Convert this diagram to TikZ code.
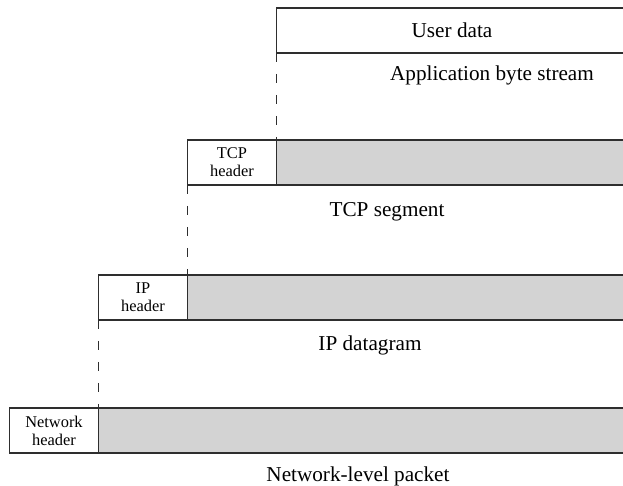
\documentclass[tikz,border=0pt]{standalone}
\usepackage{fontspec}
\setmainfont{Liberation Serif}
\usepackage{tikz}
\usetikzlibrary{positioning,calc}
\definecolor{ink}     {HTML}{2E2E2E}
\definecolor{paygray} {HTML}{D3D3D3}
\tikzset{
  % --- nodes
  hdr/.style   = {draw=ink, fill=white, align=center, inner sep=0pt, outer sep=0pt,
                  anchor=north west, line width=0.75pt, minimum width=44.5pt,
                  minimum height=22.5pt, font=\fontsize{8.2}{9}\selectfont},
  pay/.style   = {fill=paygray, inner sep=0pt, outer sep=0pt, anchor=north west,
                  minimum height=22.5pt},
  blank/.style = {pay, fill=white},
  lbl/.style   = {font=\fontsize{10.6}{12}\selectfont, inner sep=0pt},
  % --- edges
  edge/.style  = {draw=ink, line width=0.75pt},
  drop/.style  = {draw=ink, line width=0.75pt, dash pattern=on 4.5pt off 6pt},
}
\begin{document}
\begin{tikzpicture}[x=0.5pt,y=-0.5pt]
  \useasboundingbox (0,0) rectangle (623,486);
  % user data
  \node[blank, minimum width=173.25pt] (user) at (276.5,8) {};
  \node[lbl] at (452,30) {User data};
  \node[lbl] at (492,75) {Application byte stream};
  % tcp segment
  \node[hdr] (tcph) at (187.5,140) {TCP\\header};
  \node[pay, minimum width=173.25pt] (tcpd) at (tcph.north east) {};
  \node[lbl] at (387,212) {TCP segment};
  % ip datagram
  \node[hdr] (iph) at (98.5,275) {IP\\header};
  \node[pay, minimum width=217.75pt] (ipd) at (iph.north east) {};
  \node[lbl] at (370,345) {IP datagram};
  % network packet
  \node[hdr] (neth) at (9.5,408) {Network\\header};
  \node[pay, minimum width=262.25pt] (netd) at (neth.north east) {};
  \node[lbl] at (358,476) {Network-level packet};
  % open boxes (no right side)
  \foreach \b in {user,tcpd,ipd,netd}
    \draw[edge] (\b.north east) -- (\b.north west) -- (\b.south west) -- (\b.south east);
  % drop lines
  \draw[drop] (user.south west) -- (tcpd.north west);
  \draw[drop] (tcph.south west) -- (ipd.north west);
  \draw[drop] (iph.south west) -- (netd.north west);
\end{tikzpicture}
\end{document}
